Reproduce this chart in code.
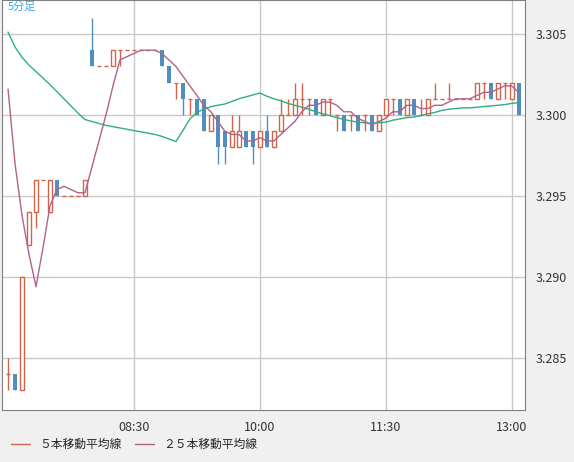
import numpy as np, pandas as pd, seaborn as sns, matplotlib
matplotlib.use("Agg")
import matplotlib.pyplot as plt
from matplotlib.lines import Line2D

opens  = [3.284,3.284,3.283,3.292,3.294,3.296,3.294,3.296,3.295,3.295,3.295,3.295,3.304,3.303,3.303,3.303,3.304,3.304,3.304,3.304,3.304,3.304,3.304,3.303,3.302,3.302,3.301,3.301,3.301,3.299,3.300,3.299,3.298,3.298,3.299,3.299,3.298,3.299,3.298,3.299,3.300,3.300,3.301,3.301,3.301,3.300,3.301,3.300,3.300,3.300,3.300,3.300,3.300,3.299,3.300,3.301,3.301,3.300,3.301,3.300,3.300,3.301,3.301,3.301,3.301,3.301,3.301,3.301,3.302,3.302,3.301,3.302,3.301,3.302]
highs  = [3.285,3.284,3.290,3.294,3.296,3.296,3.296,3.296,3.295,3.295,3.295,3.296,3.306,3.303,3.303,3.304,3.304,3.304,3.304,3.304,3.304,3.304,3.304,3.303,3.302,3.302,3.301,3.301,3.301,3.300,3.300,3.299,3.300,3.300,3.299,3.299,3.299,3.300,3.299,3.301,3.301,3.302,3.302,3.301,3.301,3.301,3.301,3.300,3.300,3.300,3.300,3.300,3.300,3.300,3.301,3.301,3.301,3.301,3.301,3.301,3.301,3.302,3.301,3.302,3.301,3.301,3.301,3.302,3.302,3.302,3.302,3.302,3.302,3.302]
lows   = [3.283,3.283,3.283,3.292,3.293,3.296,3.294,3.295,3.295,3.295,3.295,3.295,3.303,3.303,3.303,3.303,3.303,3.304,3.304,3.304,3.304,3.304,3.303,3.302,3.301,3.300,3.300,3.300,3.299,3.299,3.297,3.297,3.298,3.298,3.298,3.297,3.298,3.298,3.298,3.299,3.300,3.300,3.300,3.300,3.300,3.300,3.300,3.299,3.299,3.299,3.299,3.299,3.299,3.299,3.300,3.300,3.300,3.300,3.300,3.300,3.300,3.301,3.301,3.301,3.301,3.301,3.301,3.301,3.301,3.301,3.301,3.301,3.301,3.300]
closes = [3.284,3.283,3.290,3.294,3.296,3.296,3.296,3.295,3.295,3.295,3.295,3.296,3.303,3.303,3.303,3.304,3.304,3.304,3.304,3.304,3.304,3.304,3.303,3.302,3.302,3.301,3.301,3.300,3.299,3.300,3.298,3.298,3.299,3.299,3.298,3.298,3.299,3.298,3.299,3.300,3.300,3.301,3.301,3.301,3.300,3.301,3.301,3.300,3.299,3.300,3.299,3.300,3.299,3.300,3.301,3.301,3.300,3.301,3.300,3.300,3.301,3.301,3.301,3.301,3.301,3.301,3.301,3.302,3.302,3.301,3.302,3.302,3.302,3.300]
prev_closes = [3.306]*24
tick_pos = [18, 36, 54, 72]
tick_labels = ["08:30", "10:00", "11:30", "13:00"]
y_ticks = [3.285, 3.290, 3.295, 3.300, 3.305]

sns.set_style("white")
plt.rcParams['font.family'] = ['Noto Sans CJK JP', 'DejaVu Sans']
RED, BLUE, MA5C, MA25C = "#d0644c", "#4f8fc0", "#b0628c", "#2db07a"

n = len(closes)
allc = pd.Series(prev_closes + closes)
ma5 = allc.rolling(5).mean().iloc[24:].values
ma25 = allc.rolling(25).mean().iloc[24:].values
df = pd.DataFrame({"i": np.arange(n), "ma5": ma5, "ma25": ma25})

fig = plt.figure(figsize=(5.74, 4.62), dpi=100, facecolor="#f0f0f0")
ax = fig.add_axes([2/574, 52/462, 523/574, 410/462])
ax.set_facecolor("white")
for t in tick_pos: ax.axvline(t, color="#c8c8c8", lw=1, zorder=0)
for t in y_ticks: ax.axhline(t, color="#c8c8c8", lw=1, zorder=0)

w = 0.6
for i in range(n):
    o, h, l, c = opens[i], highs[i], lows[i], closes[i]
    col = BLUE if c < o else RED
    ax.vlines(i, l, h, color=col, lw=1, zorder=2)
    if c == o:
        ax.hlines(o, i - w/2, i + w/2, color=col, lw=1, zorder=3)
    elif c > o:
        ax.bar(i, c - o, bottom=o, width=w, facecolor="white", edgecolor=RED, lw=1, zorder=3)
    else:
        ax.bar(i, o - c, bottom=c, width=w, color=BLUE, lw=0, zorder=3)

sns.lineplot(data=df, x="i", y="ma25", color=MA25C, lw=1, ax=ax, zorder=4)
sns.lineplot(data=df, x="i", y="ma5", color=MA5C, lw=1, ax=ax, zorder=4)

ax.set_xlim(-0.86, 73.9)
ax.set_ylim(3.28179, 3.3071)
ax.set_xticks(tick_pos); ax.set_xticklabels(tick_labels, fontsize=9, color="#333333")
ax.set_yticks(y_ticks); ax.set_yticklabels([f"{v:.3f}" for v in y_ticks], fontsize=9, color="#333333")
ax.yaxis.tick_right()
ax.tick_params(length=0, pad=8)
ax.set_xlabel(""); ax.set_ylabel("")
for s in ax.spines.values(): s.set_color("#808080")
ax.text(0.01, 0.995, "5分足", transform=ax.transAxes, color="#33aaee", fontsize=8, va="top")

h1 = Line2D([], [], color=RED, lw=1); h2 = Line2D([], [], color=MA5C, lw=1)
fig.legend([h1, h2], ["５本移動平均線", "２５本移動平均線"], loc="lower left",
           bbox_to_anchor=(0.0, 0.0), ncol=2, frameon=False, fontsize=8.5, handlelength=1.6,
           columnspacing=1.2)
fig.savefig("out.png", dpi=100, facecolor=fig.get_facecolor())
